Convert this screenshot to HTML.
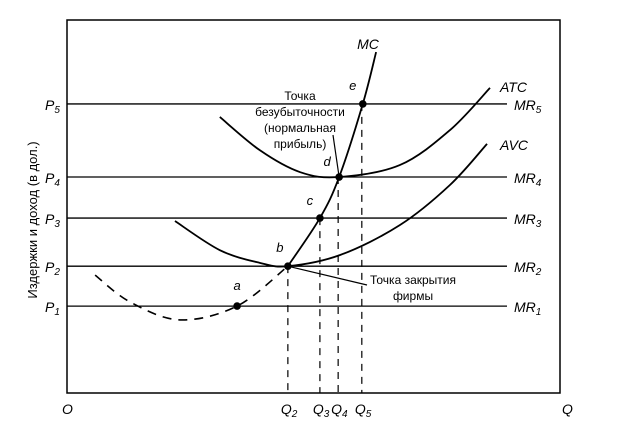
<!DOCTYPE html>
<html><head><meta charset="utf-8"><style>
html,body{margin:0;padding:0;background:#fff;}
svg{display:block;font-family:"Liberation Sans",sans-serif;}
.it{font-style:italic;font-size:14px;}
.lb{font-size:12px;}
</style></head><body>
<svg id="chart" width="633" height="427" viewBox="0 0 633 427">
<rect x="67" y="20" width="493" height="373" fill="none" stroke="#000" stroke-width="1.5"/>
<g id="g"></g>
<text x="37" y="220" transform="rotate(-90 37 220)" text-anchor="middle" font-size="13">Издержки и доход (в дол.)</text>
<text x="62" y="414" class="it">O</text>
<text x="562" y="414" class="it">Q</text>
<text x="368" y="49" class="it" text-anchor="middle">MC</text>
<text x="500" y="92" class="it">ATC</text>
<text x="500" y="150" class="it">AVC</text>
<text text-anchor="middle" class="lb"><tspan x="300" y="100">Точка</tspan><tspan x="300" y="116">безубыточности</tspan><tspan x="300" y="132">(нормальная</tspan><tspan x="300" y="148">прибыль)</tspan></text>
<text text-anchor="middle" class="lb"><tspan x="413" y="284">Точка закрытия</tspan><tspan x="413" y="300">фирмы</tspan></text>
</svg>
<script>
const priceNames=["1","2","3","4","5"];
const priceLevels=[23.3,34.0,46.9,57.9,77.5];
const qNames=["2","3","4","5"];
const qLevels=[44.8,51.3,55.0,59.8];
const mcQ=[5.7,12.8,22.9,34.5,44.8,51.3,55.2,60.0,62.7];
const mcP=[31.6,24.4,19.6,23.3,34.0,46.9,57.9,77.5,91.4];
const atcQ=[31.0,39.1,47.3,55.2,67.5,77.7,85.8];
const atcP=[74.0,65.1,59.2,57.9,61.1,70.5,81.8];
const avcQ=[21.9,31.0,39.1,44.8,55.4,67.5,77.7,85.2];
const avcP=[46.1,38.3,34.9,34.0,37.0,45.0,55.8,66.8];
const pointNames=["a","b","c","d","e"];
const pointQ=[34.5,44.8,51.3,55.2,60.0];
const pointP=[23.3,34.0,46.9,57.9,77.5];
const NS="http://www.w3.org/2000/svg";
const X=q=>67+q*4.93, Y=p=>393-p*3.73;
const g=document.getElementById('g');
function mk(t,a){const e=document.createElementNS(NS,t);for(const k in a)e.setAttribute(k,a[k]);g.appendChild(e);return e;}
function spline(qs,ps){const pts=qs.map((q,i)=>[X(q),Y(ps[i])]);let d="M"+pts[0];for(let i=0;i<pts.length-1;i++){const p0=pts[i-1]||pts[i],p1=pts[i],p2=pts[i+1],p3=pts[i+2]||p2;d+=" C"+(p1[0]+(p2[0]-p0[0])/6)+","+(p1[1]+(p2[1]-p0[1])/6)+" "+(p2[0]-(p3[0]-p1[0])/6)+","+(p2[1]-(p3[1]-p1[1])/6)+" "+p2[0]+","+p2[1];}return d;}
priceLevels.forEach((p,i)=>{
 const l=mk('line',{x1:67,x2:507,y1:Y(p),y2:Y(p),stroke:'#000','stroke-width':1.3});
 
 
 const t=mk('text',{x:45,y:Y(p)+6,'font-style':'italic','font-size':14});
 t.innerHTML='P<tspan font-size="10" dy="3">'+priceNames[i]+'</tspan>';
 
 
 const m=mk('text',{x:514,y:Y(p)+6,'font-style':'italic','font-size':14});
 m.innerHTML='MR<tspan font-size="10" dy="3">'+priceNames[i]+'</tspan>';
 
 
});
qLevels.forEach((q,i)=>{
 const yTop=Y(priceLevels[i+1]);
 const l=mk('line',{x1:X(q),x2:X(q),y1:yTop,y2:393,stroke:'#000','stroke-width':1.2,'stroke-dasharray':'7,6'});
 
 
 const t=mk('text',{x:X(q)-7,y:414,'font-style':'italic','font-size':14});
 t.innerHTML='Q<tspan font-size="10" dy="3">'+qNames[i]+'</tspan>';
 
 
});
const bi=4;
const mcDash=mk('path',{d:spline(mcQ.slice(0,bi+1),mcP.slice(0,bi+1)),fill:'none',stroke:'#000','stroke-width':1.6,'stroke-dasharray':'9,7'});


const mcSolid=mk('path',{d:spline(mcQ.slice(bi),mcP.slice(bi)),fill:'none',stroke:'#000','stroke-width':1.8});


const atc=mk('path',{d:spline(atcQ,atcP),fill:'none',stroke:'#000','stroke-width':1.8});


const avc=mk('path',{d:spline(avcQ,avcP),fill:'none',stroke:'#000','stroke-width':1.8});


const sp=mk('line',{x1:X(pointQ[1]),y1:Y(pointP[1]),x2:367,y2:285,stroke:'#000','stroke-width':1.2});


const bp=mk('line',{x1:333,y1:135,x2:X(pointQ[3]),y2:Y(pointP[3]),stroke:'#000','stroke-width':1.2});


const off=[[0,-16],[-8,-14],[-10,-13],[-12,-11],[-10,-14]];
pointNames.forEach((n,i)=>{
 const c=mk('circle',{cx:X(pointQ[i]),cy:Y(pointP[i]),r:3.8,fill:'#000'});
 
 
 const t=mk('text',{x:X(pointQ[i])+off[i][0],y:Y(pointP[i])+off[i][1],'font-style':'italic','font-size':13,'text-anchor':'middle'});
 t.textContent=n;
 
 
});
</script>
</body></html>
